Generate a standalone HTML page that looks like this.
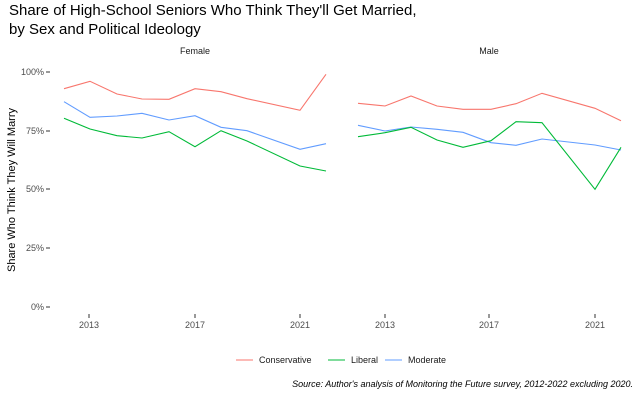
<!DOCTYPE html>
<html><head><style>
body{margin:0;background:#fff;}
text{font-family:"Liberation Sans",sans-serif;}
</style></head><body>
<svg width="640" height="400" xmlns="http://www.w3.org/2000/svg">
<text x="9" y="15" font-size="15" fill="#000">Share of High-School Seniors Who Think They'll Get Married,</text>
<text x="9" y="34" font-size="15" fill="#000">by Sex and Political Ideology</text>
<text x="195" y="54" font-size="9" fill="#1a1a1a" text-anchor="middle">Female</text>
<text x="489" y="54" font-size="9" fill="#1a1a1a" text-anchor="middle">Male</text>
<g font-size="9" fill="#4d4d4d" text-anchor="end">
<text x="44" y="75">100%</text><text x="44" y="134">75%</text><text x="44" y="192">50%</text><text x="44" y="251">25%</text><text x="44" y="310">0%</text>
</g>
<g stroke="#333" stroke-width="1">
<line x1="46" y1="72" x2="50" y2="72"/><line x1="46" y1="131" x2="50" y2="131"/><line x1="46" y1="189" x2="50" y2="189"/><line x1="46" y1="248" x2="50" y2="248"/><line x1="46" y1="307" x2="50" y2="307"/>
<line x1="89" y1="314" x2="89" y2="318"/><line x1="195" y1="314" x2="195" y2="318"/><line x1="300" y1="314" x2="300" y2="318"/>
<line x1="385" y1="314" x2="385" y2="318"/><line x1="489" y1="314" x2="489" y2="318"/><line x1="595" y1="314" x2="595" y2="318"/>
</g>
<g font-size="9" fill="#4d4d4d" text-anchor="middle">
<text x="89" y="328">2013</text><text x="195" y="328">2017</text><text x="300" y="328">2021</text>
<text x="385" y="328">2013</text><text x="489" y="328">2017</text><text x="595" y="328">2021</text>
</g>
<text transform="translate(15,190) rotate(-90)" font-size="11" fill="#000" text-anchor="middle">Share Who Think They Will Marry</text>
<g fill="none" stroke-width="1.1">
<polyline stroke="#F8766D" points="64,88.7 90,81.3 117,94 142,99 169,99.3 195,88.7 221,91.7 247,98.7 300,110.3 326,74.3"/>
<polyline stroke="#619CFF" points="64,101.7 90,117.3 117,116 142,113.3 169,120 195,115.7 221,127.3 247,130.7 300,149.3 326,143.7"/>
<polyline stroke="#00BA38" points="64,118.3 90,129 117,135.7 142,138 169,131.7 195,146.7 221,130.7 247,141 300,166 326,171"/>
<polyline stroke="#F8766D" points="358,103.3 385,106 411,96 437,106 463,109.3 491,109.3 516,103.7 542,93.3 595,108.3 621,120.7"/>
<polyline stroke="#619CFF" points="358,125.3 385,131 411,127 437,129.3 463,132.3 491,142.7 516,145.3 542,139 595,145 621,150"/>
<polyline stroke="#00BA38" points="358,136.7 385,132.7 411,127.3 437,140 463,147.3 491,140.7 516,121.7 542,122.7 595,189.3 621,147.3"/>
</g>
<g font-size="9" fill="#1a1a1a">
<line x1="236" y1="360" x2="253" y2="360" stroke="#F8766D" stroke-width="1.1"/><text x="259" y="363">Conservative</text>
<line x1="328" y1="360" x2="345" y2="360" stroke="#00BA38" stroke-width="1.1"/><text x="351" y="363">Liberal</text>
<line x1="385" y1="360" x2="402" y2="360" stroke="#619CFF" stroke-width="1.1"/><text x="408" y="363">Moderate</text>
</g>
<text x="633" y="387" font-size="9" font-style="italic" fill="#000" text-anchor="end">Source: Author's analysis of Monitoring the Future survey, 2012-2022 excluding 2020.</text>
</svg>
</body></html>
